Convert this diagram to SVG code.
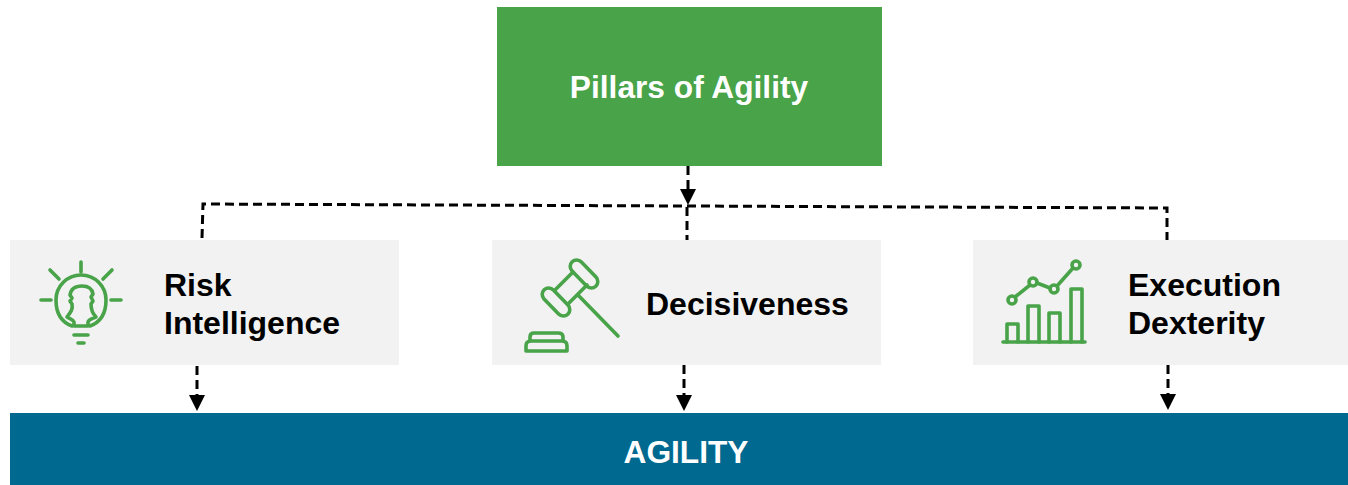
<svg xmlns="http://www.w3.org/2000/svg" width="1348" height="485" viewBox="0 0 1348 485">
<style>
text{font-family:"Liberation Sans",Arial,sans-serif;font-weight:700;font-size:32px}
.w{fill:#fff;font-size:31.700px}.b{fill:#000}
.card{fill:#f2f2f2}
.ic{fill:none;stroke:#48a349;stroke-width:3.600;stroke-linecap:round;stroke-linejoin:round}
.c{fill:none;stroke:#000;stroke-width:3;stroke-dasharray:9 5}
</style>
<g id="pillars"><rect x="497" y="7" width="385" height="159" fill="#48a349"/><text class="w" x="689" y="98" text-anchor="middle">Pillars of Agility</text></g>
<g id="risk"><rect class="card" x="10" y="240" width="389" height="125"/>
<g class="ic"><path d="M81 262V272M50 270L59 279M112 270L103 279M41 300H51M111 300H121"/>
<path d="M72 326C61 322 56 312 56 300A25 25 0 1 1 106 300C106 312 101 322 90 326"/>
<path d="M74 326V322C73 319 70 319 67 317C71 312 73 309 72 304L70 301L72 298L70 295C71 288 76 286 82 286C88 286 92 288 93 294L91 297L93 301L91 304C91 310 92 313 96 317C92 319 89 319 88 322V326Z"/>
<path d="M74 335H88M78 343H84"/></g>
<text class="b" x="164" y="296">Risk</text><text class="b" x="164" y="334">Intelligence</text></g>
<g id="decisiveness"><rect class="card" x="492" y="240" width="389" height="125"/>
<g class="ic"><rect x="-17" y="-6.500" width="34" height="13" rx="6.500" transform="translate(584 274) rotate(46)"/>
<rect x="-17" y="-6.500" width="34" height="13" rx="6.500" transform="translate(556 302) rotate(46)"/>
<path d="M573 272L555 290M587 285L568 304M578 295L618 336"/>
<path d="M530 341V337Q530 333 534 333H558Q563 333 563 337V341"/>
<path d="M526 351V346Q526 341 531 341H562Q567 341 567 346V351Z"/></g>
<text class="b" x="646" y="315">Decisiveness</text></g>
<g id="execution"><rect class="card" x="973" y="240" width="375" height="125"/>
<g class="ic"><path d="M1003 342H1085"/>
<path d="M1007 342V324H1018V342M1028 342V306H1039V342M1049 342V313H1060V342M1071 342V289H1082V342"/>
<circle cx="1012" cy="300" r="4"/><circle cx="1033" cy="282" r="4"/><circle cx="1054" cy="289" r="4"/><circle cx="1076" cy="265" r="4"/>
<path d="M1015 297L1030 285M1037 283L1050 288M1057 286L1073 268"/></g>
<text class="b" x="1128" y="296">Execution</text><text class="b" x="1128" y="334">Dexterity</text></g>
<g id="agility"><rect x="10" y="413" width="1338" height="72" fill="#006990"/><text class="w" x="686" y="463" text-anchor="middle">AGILITY</text></g>
<g id="connectors">
<path class="c" d="M202 238L203 204L1167 208V240"/>
<path class="c" d="M687 207V240"/>
<path class="c" d="M688 166V190"/>
<path class="c" d="M197 366V396"/>
<path class="c" d="M684 365V396"/>
<path class="c" d="M1168 365V395"/>
<path d="M680 189H696L688 205Z"/>
<path d="M189 395H205L197 411Z"/>
<path d="M676 395H692L684 411Z"/>
<path d="M1160 394H1176L1168 410Z"/>
</g>
</svg>
